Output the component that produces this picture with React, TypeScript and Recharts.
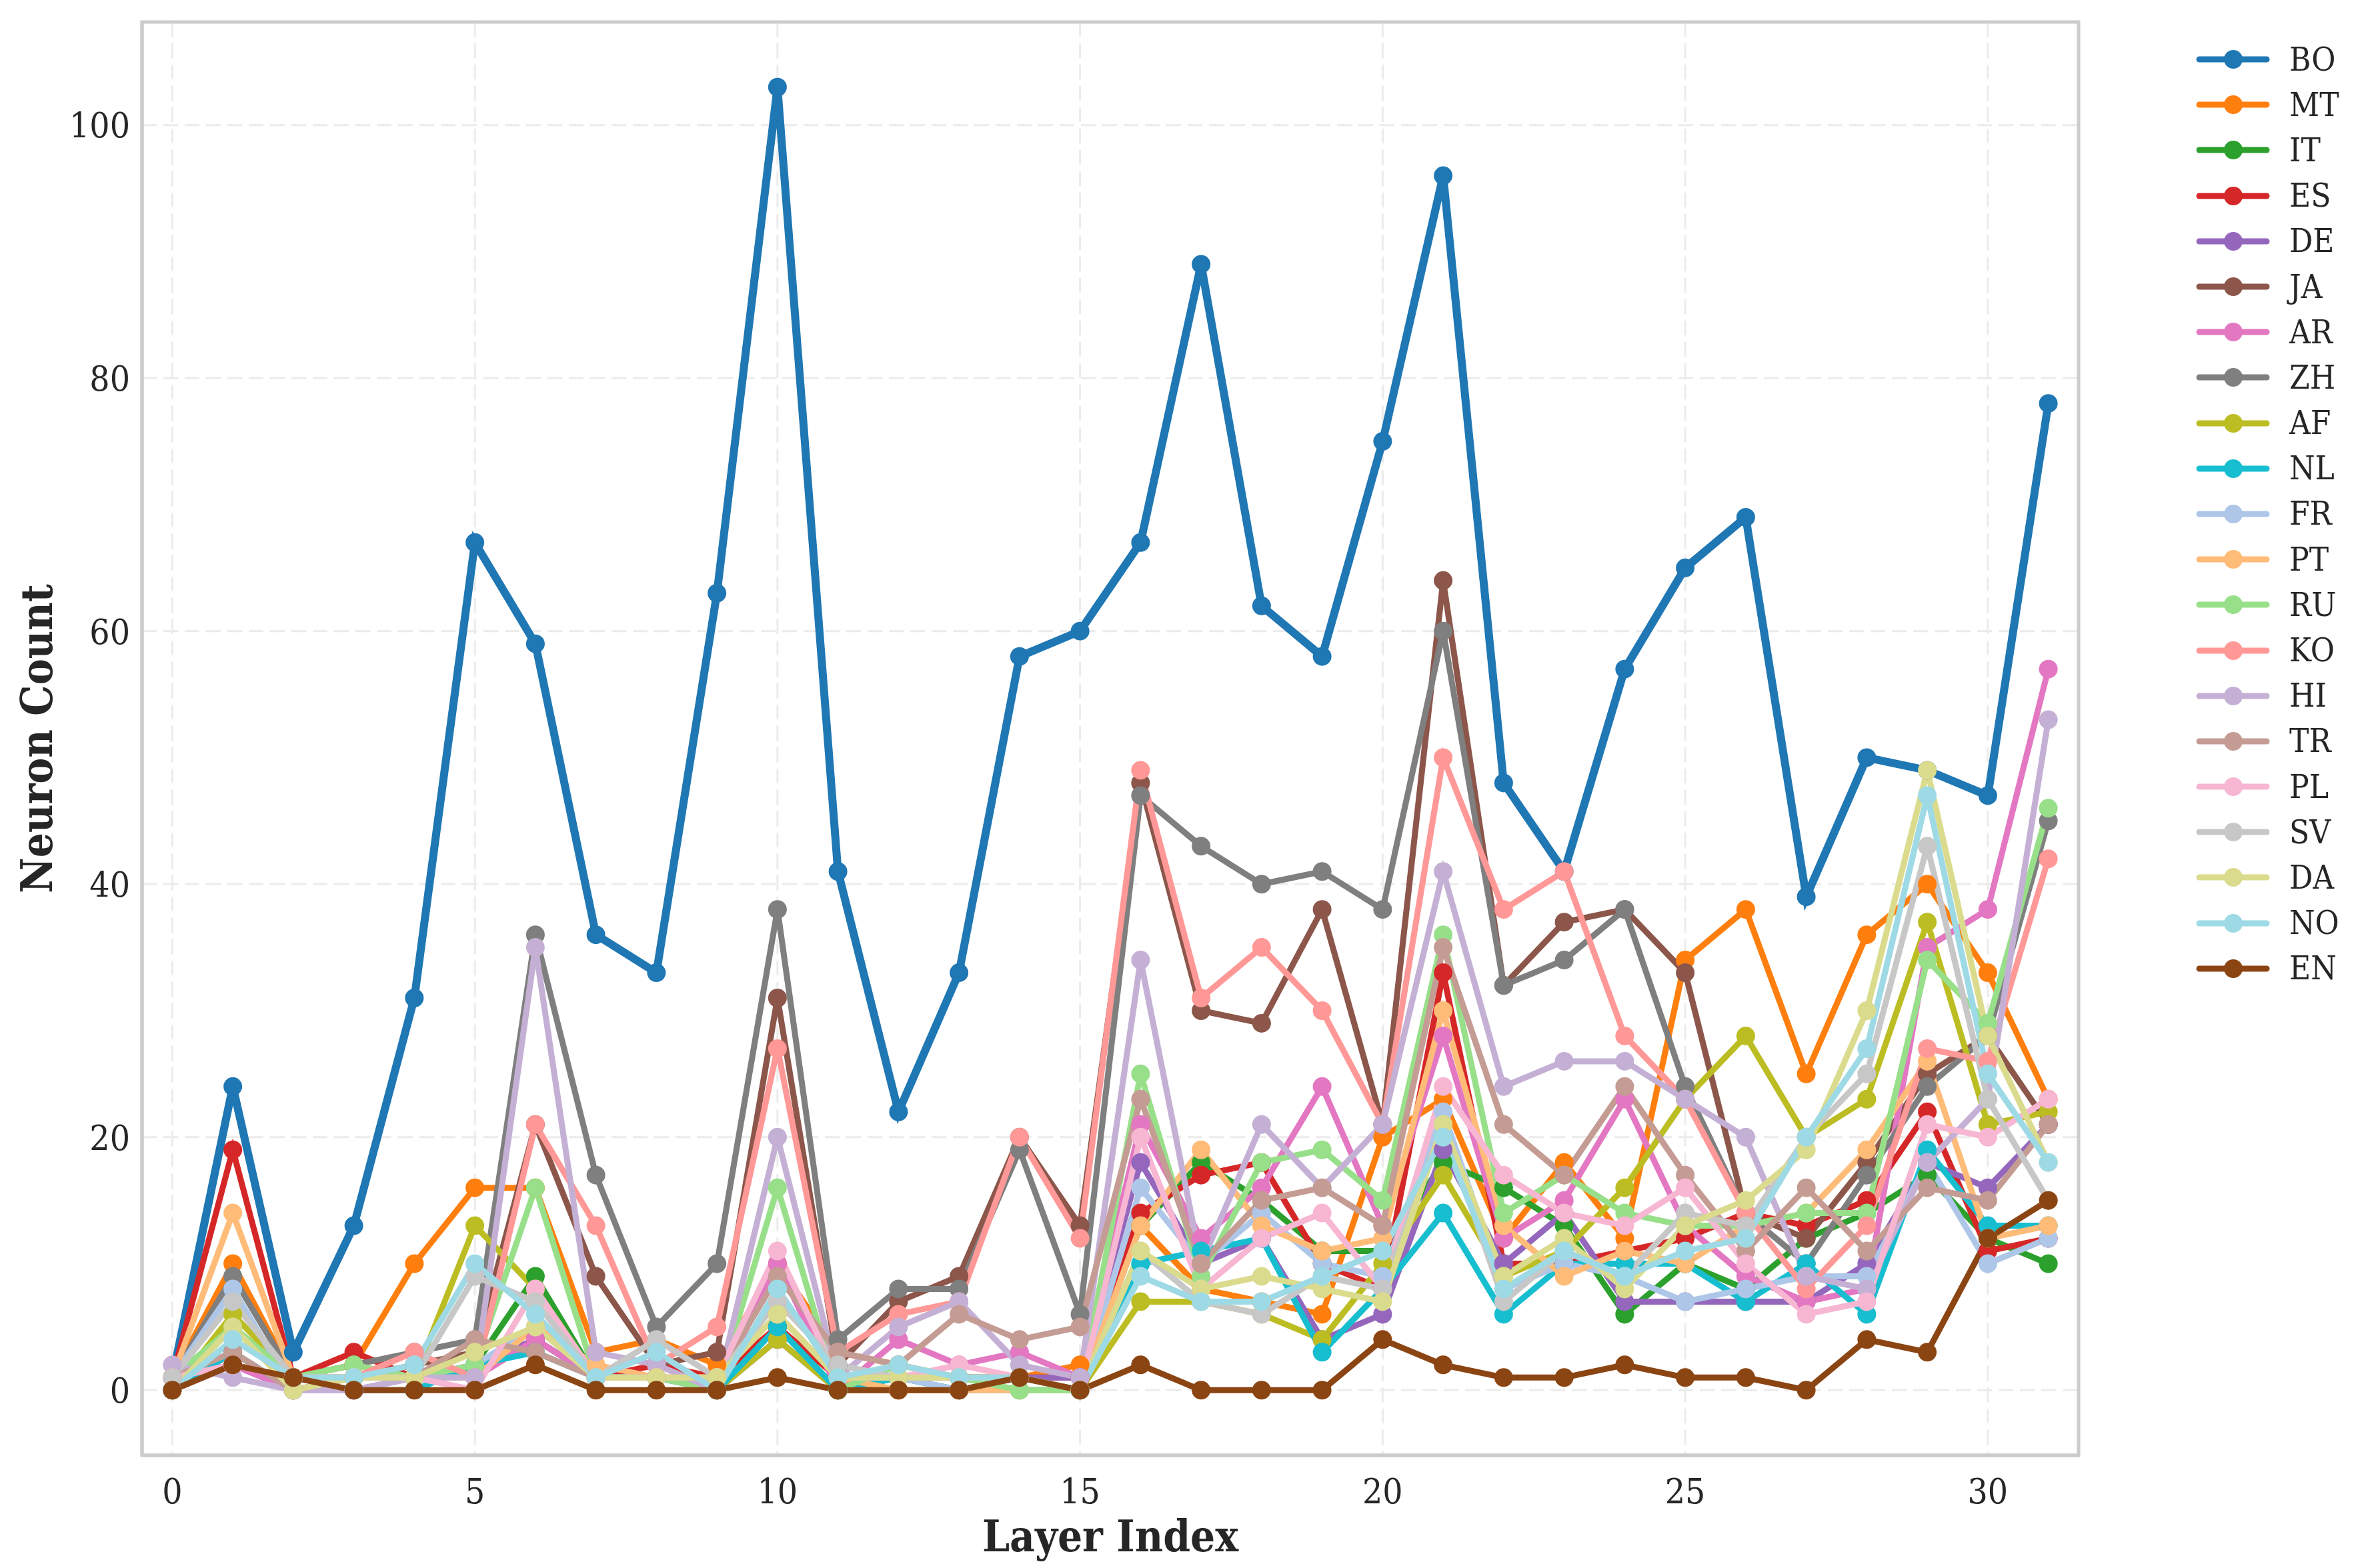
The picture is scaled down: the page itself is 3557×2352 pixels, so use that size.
import React from 'react';
import { LineChart, Line, XAxis, YAxis, CartesianGrid, ReferenceArea } from 'recharts';

const LAYERS = [0, 1, 2, 3, 4, 5, 6, 7, 8, 9, 10, 11, 12, 13, 14, 15, 16, 17, 18, 19, 20, 21, 22, 23, 24, 25, 26, 27, 28, 29, 30, 31];

const BO = [1, 24, 3, 13, 31, 67, 59, 36, 33, 63, 103, 41, 22, 33, 58, 60, 67, 89, 62, 58, 75, 96, 48, 41, 57, 65, 69, 39, 50, 49, 47, 78];
const MT = [1, 10, 1, 2, 10, 16, 16, 3, 4, 2, 10, 3, 2, 1, 1, 2, 13, 8, 7, 6, 20, 23, 12, 18, 12, 34, 38, 25, 36, 40, 33, 23];
const IT = [0, 5, 1, 1, 1, 2, 9, 1, 1, 0, 5, 0, 1, 1, 1, 0, 13, 18, 15, 11, 11, 18, 16, 13, 6, 10, 8, 12, 14, 17, 12, 10];
const ES = [1, 19, 1, 3, 1, 1, 4, 1, 2, 1, 5, 1, 1, 1, 1, 1, 14, 17, 18, 10, 8, 33, 10, 10, 11, 12, 14, 13, 15, 22, 11, 12];
const DE = [1, 2, 0, 0, 1, 2, 4, 1, 1, 0, 4, 0, 1, 0, 1, 1, 18, 10, 12, 4, 6, 19, 10, 14, 7, 7, 7, 7, 10, 18, 16, 21];
const JA = [0, 3, 0, 1, 2, 3, 21, 9, 2, 3, 31, 2, 7, 9, 20, 13, 48, 30, 29, 38, 21, 64, 32, 37, 38, 33, 14, 12, 18, 25, 28, 21];
const AR = [0, 2, 0, 0, 1, 1, 4, 1, 1, 0, 10, 0, 4, 2, 3, 1, 21, 12, 16, 24, 13, 28, 12, 15, 23, 13, 9, 7, 8, 35, 38, 57];
const ZH = [1, 9, 1, 2, 3, 4, 36, 17, 5, 10, 38, 4, 8, 8, 19, 6, 47, 43, 40, 41, 38, 60, 32, 34, 38, 24, 14, 10, 17, 24, 28, 45];
const AF = [0, 6, 1, 1, 1, 13, 8, 1, 1, 0, 4, 0, 0, 0, 0, 0, 7, 7, 6, 4, 10, 17, 9, 11, 16, 23, 28, 20, 23, 37, 21, 22];
const NL = [0, 3, 0, 0, 0, 2, 3, 1, 1, 0, 5, 0, 1, 0, 0, 0, 10, 11, 12, 3, 8, 14, 6, 10, 10, 10, 7, 10, 6, 19, 13, 13];
const FR = [1, 8, 0, 0, 1, 2, 5, 1, 1, 0, 8, 1, 1, 0, 1, 0, 16, 10, 14, 10, 9, 22, 8, 10, 9, 7, 8, 9, 9, 18, 10, 12];
const PT = [1, 14, 1, 1, 1, 1, 5, 2, 1, 1, 6, 1, 0, 0, 0, 0, 13, 19, 13, 11, 12, 30, 13, 9, 11, 10, 13, 14, 19, 26, 12, 13];
const RU = [1, 5, 1, 2, 1, 2, 16, 1, 1, 0, 16, 0, 2, 1, 0, 0, 25, 9, 18, 19, 15, 36, 14, 17, 14, 13, 13, 14, 14, 34, 29, 46];
const KO = [1, 2, 1, 1, 3, 1, 21, 13, 2, 5, 27, 3, 6, 7, 20, 12, 49, 31, 35, 30, 21, 50, 38, 41, 28, 23, 14, 8, 13, 27, 26, 42];
const HI = [2, 1, 0, 0, 1, 1, 35, 3, 2, 0, 20, 1, 5, 7, 2, 1, 34, 10, 21, 16, 21, 41, 24, 26, 26, 23, 20, 9, 8, 18, 23, 53];
const TR = [1, 3, 0, 1, 1, 4, 3, 1, 1, 1, 9, 3, 2, 6, 4, 5, 23, 10, 15, 16, 13, 35, 21, 17, 24, 17, 11, 16, 11, 16, 15, 21];
const PL = [1, 2, 1, 1, 1, 0, 8, 1, 1, 1, 11, 1, 1, 2, 1, 0, 20, 8, 12, 14, 8, 24, 17, 14, 13, 16, 10, 6, 7, 21, 20, 23];
const SV = [1, 7, 1, 1, 1, 9, 7, 1, 4, 1, 7, 2, 1, 1, 1, 0, 11, 7, 6, 9, 8, 21, 7, 11, 9, 14, 13, 20, 25, 43, 23, 15];
const DA = [0, 5, 0, 1, 1, 3, 5, 1, 1, 1, 6, 1, 1, 1, 1, 0, 11, 8, 9, 8, 7, 21, 9, 12, 8, 13, 15, 19, 30, 49, 28, 18];
const NO = [0, 4, 1, 1, 2, 10, 6, 1, 3, 0, 8, 1, 2, 1, 1, 0, 9, 7, 7, 9, 11, 20, 8, 11, 9, 11, 12, 20, 27, 47, 25, 18];
const EN = [0, 2, 1, 0, 0, 0, 2, 0, 0, 0, 1, 0, 0, 0, 1, 0, 2, 0, 0, 0, 4, 2, 1, 1, 2, 1, 1, 0, 4, 3, 12, 15];

const X_TICKS = [0, 5, 10, 15, 20, 25, 30];
const Y_TICKS = [0, 20, 40, 60, 80, 100];

// drawing order = legend order (EN ends up on top)
const SERIES = [
  { key: 'BO', color: '#1f77b4', values: BO },
  { key: 'MT', color: '#ff7f0e', values: MT },
  { key: 'IT', color: '#2ca02c', values: IT },
  { key: 'ES', color: '#d62728', values: ES },
  { key: 'DE', color: '#9467bd', values: DE },
  { key: 'JA', color: '#8c564b', values: JA },
  { key: 'AR', color: '#e377c2', values: AR },
  { key: 'ZH', color: '#7f7f7f', values: ZH },
  { key: 'AF', color: '#bcbd22', values: AF },
  { key: 'NL', color: '#17becf', values: NL },
  { key: 'FR', color: '#aec7e8', values: FR },
  { key: 'PT', color: '#ffbb78', values: PT },
  { key: 'RU', color: '#98df8a', values: RU },
  { key: 'KO', color: '#ff9896', values: KO },
  { key: 'HI', color: '#c5b0d5', values: HI },
  { key: 'TR', color: '#c49c94', values: TR },
  { key: 'PL', color: '#f7b6d2', values: PL },
  { key: 'SV', color: '#c7c7c7', values: SV },
  { key: 'DA', color: '#dbdb8d', values: DA },
  { key: 'NO', color: '#9edae5', values: NO },
  { key: 'EN', color: '#8b4513', values: EN },
];

const data = LAYERS.map((layer, i) => {
  const row: Record<string, number> = { layer };
  SERIES.forEach((s) => { row[s.key] = s.values[i]; });
  return row;
});

const FONT = "'DejaVu Serif Condensed', 'DejaVu Serif', serif";
const W = 3557;
const H = 2352;

const XLabel = ({ viewBox }: any) => (
  <text x={viewBox.x + viewBox.width / 2} y={viewBox.y + 121} textAnchor="middle" dominantBaseline="central"
    fontFamily={FONT} fontWeight="bold" fontSize={65} fill="#262626">Layer Index</text>
);

const YLabel = ({ viewBox }: any) => {
  const cx = viewBox.x + 55;
  const cy = viewBox.y + viewBox.height / 2;
  return (
    <text x={cx} y={cy} transform={`rotate(-90 ${cx} ${cy})`} textAnchor="middle" dominantBaseline="central"
      fontFamily={FONT} fontWeight="bold" fontSize={65} fill="#262626">Neuron Count</text>
  );
};

export default function App() {
  return (
    <div style={{ position: 'relative', width: W, height: H, background: '#fff' }}>
      <style>{'body{margin:0}'}</style>
      <LineChart width={W} height={H} data={data} margin={{ top: 33, right: 440, bottom: 0, left: 0 }}>
        <CartesianGrid stroke="#ebebeb" strokeWidth={3} strokeDasharray="22 10" />
        <XAxis dataKey="layer" type="number" domain={[-0.5, 31.5]} ticks={X_TICKS} height={169}
          tickLine={false} tickMargin={28} axisLine={{ stroke: '#cccccc', strokeWidth: 5 }}
          tick={{ fontFamily: FONT, fontSize: 53, fill: '#262626' }} label={<XLabel />} />
        <YAxis type="number" domain={[-5.15, 108.15]} ticks={Y_TICKS} width={213}
          tickLine={false} tickMargin={12} axisLine={{ stroke: '#cccccc', strokeWidth: 5 }}
          tick={{ fontFamily: FONT, fontSize: 53, fill: '#262626' }} label={<YLabel />} />
        <ReferenceArea x1={-0.5} x2={31.5} y1={-5.15} y2={108.15} fill="none" stroke="#cccccc" strokeWidth={5} />
        {SERIES.map((s) => (
          <Line key={s.key} type="linear" dataKey={s.key} stroke={s.color}
            strokeWidth={s.key === 'BO' ? 12 : 9}
            dot={{ r: 13, fill: s.color, stroke: s.color, strokeWidth: 2 }}
            activeDot={false} isAnimationActive={false} />
        ))}
      </LineChart>
      <div style={{ position: 'absolute', left: 3298, top: 55, fontFamily: FONT, fontSize: 49, color: '#262626' }}>
        {SERIES.map((s) => (
          <div key={s.key} style={{ display: 'flex', alignItems: 'center', height: 68.2 }}>
            <svg width={101} height={30} style={{ overflow: 'visible' }}>
              <line x1={0} y1={15} x2={101} y2={15} stroke={s.color} strokeWidth={9} strokeLinecap="round" />
              <circle cx={51} cy={15} r={14} fill={s.color} />
            </svg>
            <span style={{ marginLeft: 34, lineHeight: 1 }}>{s.key}</span>
          </div>
        ))}
      </div>
    </div>
  );
}
